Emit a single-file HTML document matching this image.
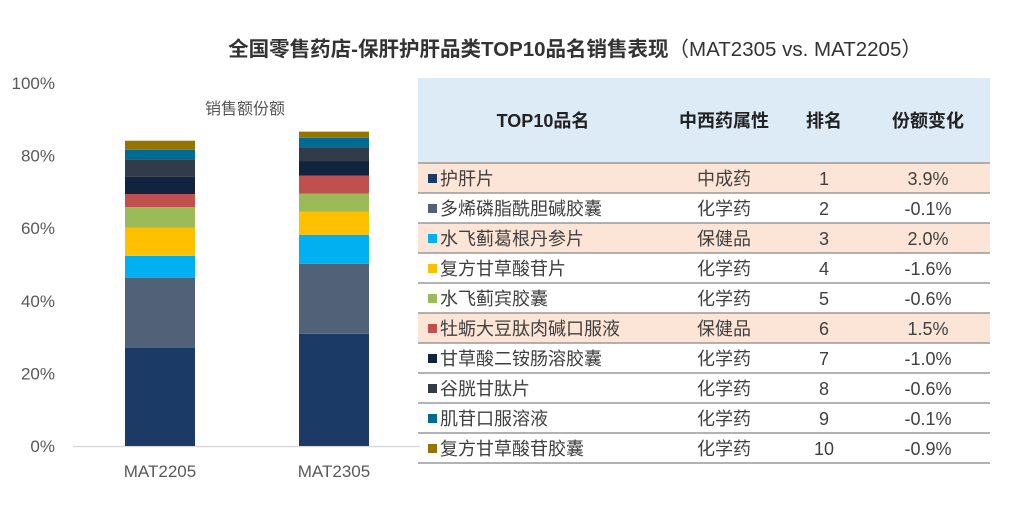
<!DOCTYPE html>
<html><head><meta charset="utf-8">
<style>
body{margin:0;width:1028px;height:518px;background:#fff;overflow:hidden;font-family:"Liberation Sans","Noto Sans CJK SC",sans-serif;position:relative}
.t{position:absolute;white-space:nowrap}
</style></head>
<body>
<div class="t" style="left:0;width:1150px;text-align:center;top:32px;font-size:20.5px;color:#333;font-weight:bold">全国零售药店-保肝护肝品类TOP10品名销售表现<span style="font-weight:normal">（MAT2305 vs. MAT2205）</span></div>
<svg id="chart" width="420" height="518" style="position:absolute;left:0;top:0"></svg>
<div class="t" style="left:205px;top:95px;font-size:16px;color:#555">销售额份额</div>
<svg id="tbl" width="1028" height="518" style="position:absolute;left:0;top:0"></svg>
<script>
const categories=["MAT2205","MAT2305"];
const colors=["#1b3a66","#516178","#00b0f0","#ffc000","#9bbb59","#c0504d","#10233f","#323c49","#006a93","#977300"];
const s2205=[27.0,19.3,6.1,7.7,5.7,3.6,4.8,4.6,2.8,2.5];
const s2305=[30.9,19.3,8.0,6.3,5.0,5.0,4.0,3.6,2.8,1.7];
const yTicks=[0,20,40,60,80,100];
const names=["护肝片","多烯磷脂酰胆碱胶囊","水飞蓟葛根丹参片","复方甘草酸苷片","水飞蓟宾胶囊","牡蛎大豆肽肉碱口服液","甘草酸二铵肠溶胶囊","谷胱甘肽片","肌苷口服溶液","复方甘草酸苷胶囊"];
const types=["中成药","化学药","保健品","化学药","化学药","保健品","化学药","化学药","化学药","化学药"];
const ranks=[1,2,3,4,5,6,7,8,9,10];
const changes=["3.9%","-0.1%","2.0%","-1.6%","-0.6%","1.5%","-1.0%","-0.6%","-0.1%","-0.9%"];
const NS="http://www.w3.org/2000/svg";
function mk(p,tag,a){const e=document.createElementNS(NS,tag);for(const k in a)e.setAttribute(k,a[k]);p.appendChild(e);return e;}
const y=v=>446-v*3.63;
const xc=[160,334], bw=70;
const svg=document.getElementById('chart');
const base=mk(svg,'line',{x1:73,x2:420,y1:446.5,y2:446.5,stroke:'#d9d9d9','stroke-width':1.5});


yTicks.forEach(v=>{const t=mk(svg,'text',{x:55,y:y(v)+6,'text-anchor':'end','font-size':17,fill:'#595959'});t.textContent=v+'%';

});
[s2205,s2305].forEach((ser,i)=>{let acc=0;ser.forEach((v,j)=>{const r=mk(svg,'rect',{x:xc[i]-bw/2,y:y(acc+v),width:bw,height:y(acc)-y(acc+v),fill:colors[j]});

acc+=v;});
const t=mk(svg,'text',{x:xc[i],y:477,'text-anchor':'middle','font-size':17,fill:'#595959'});t.textContent=categories[i];

});
const tb=document.getElementById('tbl');
mk(tb,'rect',{x:418,y:78,width:572,height:85,fill:'#ddebf7'});
const hd=[["TOP10品名",543],["中西药属性",724],["排名",824],["份额变化",928]];
hd.forEach(h=>{const t=mk(tb,'text',{x:h[1],y:127,'text-anchor':'middle','font-size':18,'font-weight':'bold',fill:'#222'});t.textContent=h[0];

});
const rh=30, t0=163;
names.forEach((n,i)=>{const top=t0+i*rh;
if(types[i]==='中成药'||types[i]==='保健品')mk(tb,'rect',{x:418,y:top,width:572,height:rh,fill:'#fce4d6'});
const sq=mk(tb,'rect',{x:428,y:top+11,width:9,height:9,fill:colors[i]});


const cells=[[n,440,'start'],[types[i],724,'middle'],[String(ranks[i]),824,'middle'],[changes[i],928,'middle']];
cells.forEach(c=>{const t=mk(tb,'text',{x:c[1],y:top+22,'text-anchor':c[2],'font-size':18,fill:'#404040'});t.textContent=c[0];

});});
for(let i=0;i<=10;i++){mk(tb,'line',{x1:418,x2:990,y1:t0+i*rh,y2:t0+i*rh,stroke:'#999','stroke-width':1.5});}
</script>
</body></html>
